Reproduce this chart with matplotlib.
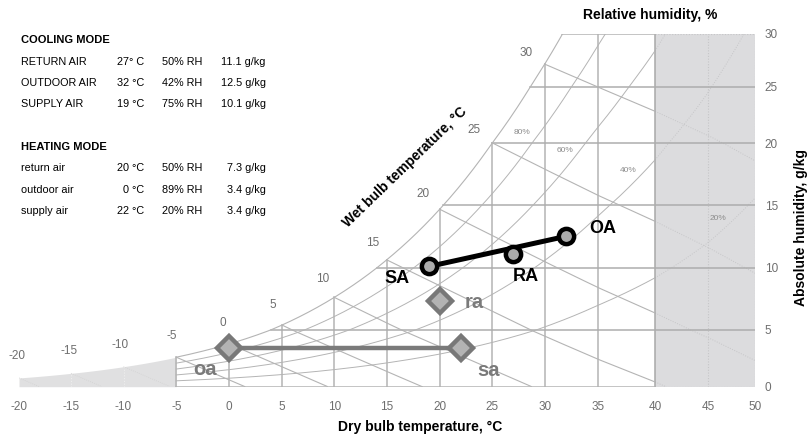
import numpy as np
import matplotlib
matplotlib.use("Agg")
import matplotlib.pyplot as plt
from matplotlib.patches import Rectangle

plt.rcParams['font.family'] = ['Liberation Sans', 'DejaVu Sans']
plt.rcParams['axes.unicode_minus'] = False

# ---- operating points -------------------------------------------------
cooling_names = ["RETURN AIR", "OUTDOOR AIR", "SUPPLY AIR"]
cooling_tags = ["RA", "OA", "SA"]
cooling_temp = [27, 32, 19]
cooling_rh = [50, 42, 75]
cooling_hum = [11.1, 12.5, 10.1]
cooling_temp_fmt = ["{}° C", "{} °C", "{} °C"]

heating_names = ["return air", "outdoor air", "supply air"]
heating_tags = ["ra", "oa", "sa"]
heating_temp = [20, 0, 22]
heating_rh = [50, 89, 20]
heating_hum = [7.3, 3.4, 3.4]
heating_temp_fmt = ["{} °C", "{} °C", "{} °C"]

# ---- chart grid values -------------------------------------------------
dry_bulb_ticks = list(range(-20, 51, 5))
hum_ticks = list(range(0, 31, 5))
rh_levels = [20, 40, 60, 80]
wet_bulb_levels = list(range(-20, 31, 5))

# piecewise axis layout of the printed chart (grid spacing is not uniform)
T_KNOTS = [-20, -15, -10, -5, 0, 5, 10, 15, 20, 25, 30, 35, 40, 45, 50]
T_PIX = [19, 71, 123.5, 176.3, 229.3, 282, 334.3, 386.7, 439.7, 492.3,
         544.7, 597.7, 655, 708, 755]
W_KNOTS = [0, 5, 10, 15, 20, 25, 30]
W_PIX = [0, 56.7, 119, 181.7, 243.4, 300, 352.7]


def _interp_ext(v, xk, yk):
    v = np.asarray(v, dtype=float)
    xk = np.asarray(xk, float)
    yk = np.asarray(yk, float)
    out = np.interp(v, xk, yk)
    lo = v < xk[0]
    hi = v > xk[-1]
    s0 = (yk[1] - yk[0]) / (xk[1] - xk[0])
    s1 = (yk[-1] - yk[-2]) / (xk[-1] - xk[-2])
    out = np.where(lo, yk[0] + (v - xk[0]) * s0, out)
    out = np.where(hi, yk[-1] + (v - xk[-1]) * s1, out)
    return out


def fx(t):
    return _interp_ext(t, T_KNOTS, T_PIX)


def fx_inv(p):
    return _interp_ext(p, T_PIX, T_KNOTS)


def fy(w):
    return _interp_ext(w, W_KNOTS, W_PIX)


def fy_inv(p):
    return _interp_ext(p, W_PIX, W_KNOTS)


# ---- psychrometrics ----------------------------------------------------
P_ATM = 101.325


def p_sat(t):
    t = np.asarray(t, float)
    return 0.61094 * np.exp(17.625 * t / (t + 243.04))


def hum_ratio(t, rh):
    pv = rh * p_sat(t)
    return 622.0 * pv / (P_ATM - pv)


def wet_bulb_hum(t, twb):
    ws = hum_ratio(twb, 1.0) / 1000.0
    return 1000.0 * ((2501 - 2.326 * twb) * ws - 1.006 * (t - twb)) / \
        (2501 + 1.86 * t - 4.186 * twb)


def temp_at(w, rh=1.0):
    tt = np.linspace(-30, 60, 9001)
    return float(np.interp(w, hum_ratio(tt, rh), tt))


# ---- figure ------------------------------------------------------------
W_FIG, H_FIG = 809, 434
fig = plt.figure(figsize=(W_FIG / 100, H_FIG / 100), dpi=100)
ax = fig.add_axes([19 / W_FIG, 1 - 386.7 / H_FIG,
                   (755 - 19) / W_FIG, (386.7 - 34) / H_FIG])
ax.set_xscale('function', functions=(fx, fx_inv))
ax.set_yscale('function', functions=(fy, fy_inv))
ax.set_xlim(-20, 50)
ax.set_ylim(0, 30)
for sp in ax.spines.values():
    sp.set_visible(False)

GRID = '#b4b4b4'
FAINT = '#c6c6c8'
DOT = (0, (1, 1.5))

# shaded zones
ax.add_patch(Rectangle((40, 0), 10, 30, fc='#dcdcde', ec='none', zorder=0))
tb = np.linspace(-20, -5, 200)
ax.fill_between(tb, 0, hum_ratio(tb, 1.0), color='#e0e0e1', lw=0, zorder=0)
for t in (-15, -10):
    ax.plot([t, t], [0, hum_ratio(t, 1.0)], color='#eeeeee', lw=0.8,
            ls=DOT, zorder=1)

# grey zone outline and inner grid
ax.plot([40, 50, 50, 40], [30, 30, 0, 0], color=FAINT, lw=0.8, ls=DOT, zorder=1)
ax.plot([45, 45], [0, 30], color=FAINT, lw=0.8, ls=DOT, zorder=1)

# constant dry bulb lines
for t in range(-5, 40, 5):
    ax.plot([t, t], [0, min(hum_ratio(t, 1.0), 30)], color=GRID, lw=1.1, zorder=2)
ax.plot([40, 40], [0, 30], color='#a8a8a8', lw=1.1, zorder=2)

# constant humidity lines
ax.plot([-5, 40], [0, 0], color=GRID, lw=1.1, zorder=2)
for w in range(5, 31, 5):
    t0 = temp_at(w)
    if w < 30:
        ax.plot([t0, 50], [w, w], color='#adadad', lw=1.1, zorder=2)
    else:
        ax.plot([t0, 40], [w, w], color=GRID, lw=1.1, zorder=2)

# saturation and relative humidity curves
ts = np.linspace(-5, temp_at(30), 300)
ax.plot(ts, hum_ratio(ts, 1.0), color=GRID, lw=0.8, zorder=2)
for rh in rh_levels:
    t1 = np.linspace(-5, 40, 400)
    t2 = np.linspace(40, 50, 100)
    ax.plot(t1, hum_ratio(t1, rh / 100), color=GRID, lw=0.7, zorder=2)
    ax.plot(t2, hum_ratio(t2, rh / 100), color=FAINT, lw=0.7, ls=DOT, zorder=1)

# constant wet bulb lines
for twb in wet_bulb_levels:
    tt = np.linspace(twb, 50, 800)
    ww = wet_bulb_hum(tt, twb)
    ok = ww >= 0
    tt, ww = tt[ok], ww[ok]
    band = tt <= -5
    white = (tt >= -5) & (tt <= 40)
    grey = tt >= 40
    if band.any():
        ax.plot(tt[band], ww[band], color='#d2d2d2', lw=0.6, ls=DOT, zorder=1)
    if white.any():
        ax.plot(tt[white], ww[white], color=GRID, lw=0.8, zorder=2)
    if grey.any():
        ax.plot(tt[grey], ww[grey], color=FAINT, lw=0.7, ls=DOT, zorder=1)

# wet bulb labels, set off normal to the saturation curve
TICK_GREY = '#6e6e6e'
for twb in wet_bulb_levels:
    p0 = ax.transData.transform((twb - 0.5, float(hum_ratio(twb - 0.5, 1.0))))
    p1 = ax.transData.transform((twb + 0.5, float(hum_ratio(twb + 0.5, 1.0))))
    tx, ty = p1 - p0
    n = np.hypot(tx, ty)
    nx, ny = -ty / n, tx / n
    ax.annotate(str(twb), xy=(twb, float(hum_ratio(twb, 1.0))),
                xytext=(22 * nx, 22 * ny), textcoords='offset pixels',
                ha='center', va='center', fontsize=8.5, color=TICK_GREY,
                annotation_clip=False, zorder=3)

# axes ticks
ax.set_xticks(dry_bulb_ticks)
ax.set_xticklabels([str(v) for v in dry_bulb_ticks])
ax.yaxis.tick_right()
ax.set_yticks(hum_ticks)
ax.set_yticklabels([str(v) for v in hum_ticks])
ax.tick_params(axis='x', length=0, pad=10, labelsize=8.5, labelcolor=TICK_GREY)
ax.tick_params(axis='y', length=0, pad=7, labelsize=8.5, labelcolor=TICK_GREY)
ax.minorticks_off()


def fxp(x):
    return x / W_FIG


def fyp(y):
    return 1 - y / H_FIG


# relative humidity labels
for lab, (px, py) in zip(["80%", "60%", "40%", "20%"],
                         [(522, 133), (565, 150), (628, 171), (718, 218)]):
    fig.text(fxp(px), fyp(py), lab, fontsize=6, color='#8c8c8c',
             ha='center', va='center')

# axis titles
fig.text(fxp(650), fyp(15), "Relative humidity, %", fontsize=10,
         fontweight='bold', ha='center', va='center')
fig.text(fxp(420), fyp(427), "Dry bulb temperature, °C", fontsize=10,
         fontweight='bold', ha='center', va='center')
fig.text(fxp(801), fyp(228), "Absolute humidity, g/kg", fontsize=10,
         fontweight='bold', ha='center', va='center', rotation=90)
fig.text(fxp(405), fyp(167), "Wet bulb temperature, °C", fontsize=10,
         fontweight='bold', ha='center', va='center', rotation=44,
         rotation_mode='anchor')

# heating process
ax.plot([heating_temp[1], heating_temp[2]], [heating_hum[1], heating_hum[2]],
        color='#7a7a7a', lw=3.2, zorder=4, solid_capstyle='butt')
ax.plot(heating_temp, heating_hum, 'D', ms=12, mfc='#b3b3b3', mec='#787878',
        mew=3.2, zorder=5, ls='none')
heat_offsets = {"ra": (34, -1), "oa": (-24, -21), "sa": (28, -22)}
for t, w, tag in zip(heating_temp, heating_hum, heating_tags):
    ax.annotate(tag, xy=(t, w), xytext=heat_offsets[tag],
                textcoords='offset pixels', ha='center', va='center',
                fontsize=14.5, fontweight='bold', color='#7a7a7a', zorder=6)

# cooling process
ax.plot([cooling_temp[2], cooling_temp[1]], [cooling_hum[2], cooling_hum[1]],
        color='black', lw=3.6, zorder=6, solid_capstyle='butt')
ax.plot(cooling_temp, cooling_hum, 'o', ms=11, mfc='#ababab', mec='black',
        mew=3.2, zorder=7, ls='none')
cool_offsets = {"RA": (13, -23), "OA": (37, 8), "SA": (-32, -12)}
for t, w, tag in zip(cooling_temp, cooling_hum, cooling_tags):
    ax.annotate(tag, xy=(t, w), xytext=cool_offsets[tag],
                textcoords='offset pixels', ha='center', va='center',
                fontsize=13, fontweight='bold', color='black', zorder=8)

# ---- summary table -----------------------------------------------------
COLS = [20.7, 144.3, 202.3, 265.7]


def table_block(title, y_title, names, temps, fmts, rhs, hums, y_rows):
    fig.text(fxp(COLS[0]), fyp(y_title + 4), title, fontsize=8,
             fontweight='bold', ha='left', va='baseline')
    for name, t, f, rh, w, y in zip(names, temps, fmts, rhs, hums, y_rows):
        kw = dict(fontsize=7.8, va='baseline')
        fig.text(fxp(COLS[0]), fyp(y + 4), name, ha='left', **kw)
        fig.text(fxp(COLS[1]), fyp(y + 4), f.format(t), ha='right', **kw)
        fig.text(fxp(COLS[2]), fyp(y + 4), f"{rh}% RH", ha='right', **kw)
        fig.text(fxp(COLS[3]), fyp(y + 4), f"{w} g/kg", ha='right', **kw)


table_block("COOLING MODE", 39.3, cooling_names, cooling_temp,
            cooling_temp_fmt, cooling_rh, cooling_hum, [61, 82, 103.3])
table_block("HEATING MODE", 145.7, heating_names, heating_temp,
            heating_temp_fmt, heating_rh, heating_hum, [166.7, 188.7, 210.3])

fig.savefig("out.png", dpi=100)
